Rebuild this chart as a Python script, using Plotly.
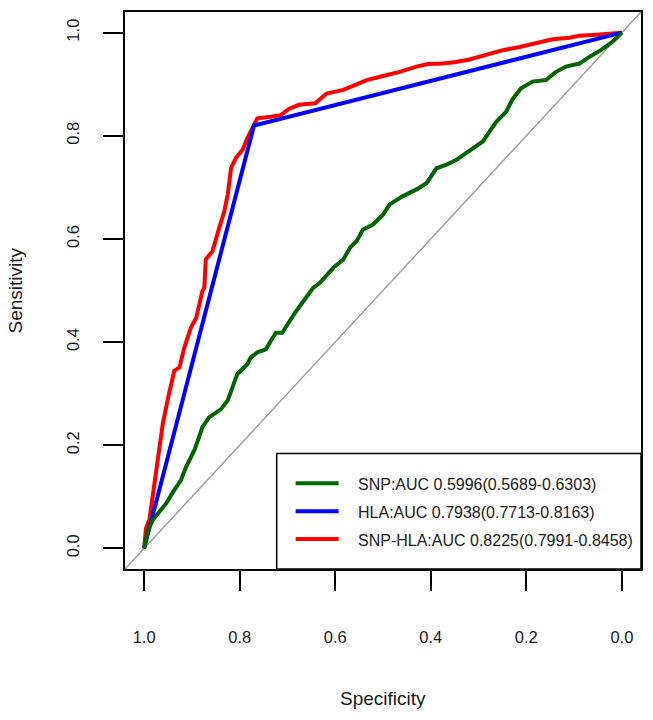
import plotly.graph_objects as go

# ---------------- data ----------------
series_names = ["SNP:AUC 0.5996(0.5689-0.6303)",
                "HLA:AUC 0.7938(0.7713-0.8163)",
                "SNP-HLA:AUC 0.8225(0.7991-0.8458)"]
series_colors = ["#006400", "#0000FF", "#FF0000"]

snp_spec = [1.0, 0.992, 0.982, 0.965, 0.954, 0.937, 0.923, 0.912, 0.895, 0.885,
            0.878, 0.864, 0.839, 0.825, 0.815, 0.805, 0.784, 0.777, 0.763, 0.745,
            0.735, 0.724, 0.711, 0.700, 0.686, 0.674, 0.646, 0.632, 0.604, 0.583,
            0.569, 0.555, 0.542, 0.521, 0.500, 0.486, 0.458, 0.430, 0.409, 0.388,
            0.367, 0.347, 0.319, 0.291, 0.277, 0.263, 0.242, 0.228, 0.211, 0.187,
            0.159, 0.138, 0.117, 0.089, 0.068, 0.044, 0.020, 0.0]
snp_sens = [0.0, 0.035, 0.055, 0.074, 0.087, 0.113, 0.132, 0.158, 0.190, 0.216,
            0.235, 0.254, 0.270, 0.287, 0.312, 0.338, 0.357, 0.370, 0.380, 0.386,
            0.402, 0.418, 0.418, 0.435, 0.454, 0.470, 0.505, 0.515, 0.544, 0.560,
            0.583, 0.596, 0.618, 0.628, 0.647, 0.667, 0.683, 0.696, 0.708, 0.737,
            0.744, 0.753, 0.772, 0.789, 0.808, 0.827, 0.847, 0.872, 0.892, 0.905,
            0.908, 0.924, 0.934, 0.940, 0.953, 0.966, 0.982, 1.0]

hla_spec = [1.0, 0.770, 0.0]
hla_sens = [0.0, 0.820, 1.0]

combo_spec = [1.0, 0.996, 0.989, 0.975, 0.961, 0.951, 0.937, 0.926, 0.916, 0.902,
              0.891, 0.878, 0.874, 0.871, 0.857, 0.843, 0.832, 0.825, 0.818, 0.808,
              0.794, 0.784, 0.773, 0.763, 0.735, 0.714, 0.697, 0.676, 0.642, 0.618,
              0.583, 0.562, 0.534, 0.500, 0.465, 0.430, 0.406, 0.375, 0.347, 0.319,
              0.284, 0.249, 0.214, 0.180, 0.145, 0.110, 0.089, 0.054, 0.0]
combo_sens = [0.0, 0.039, 0.055, 0.145, 0.241, 0.287, 0.344, 0.351, 0.389, 0.428,
              0.447, 0.499, 0.505, 0.560, 0.576, 0.621, 0.654, 0.686, 0.737, 0.757,
              0.773, 0.795, 0.815, 0.834, 0.837, 0.840, 0.852, 0.860, 0.863, 0.882,
              0.889, 0.897, 0.908, 0.916, 0.924, 0.934, 0.939, 0.940, 0.943, 0.948,
              0.956, 0.966, 0.972, 0.979, 0.987, 0.990, 0.994, 0.996, 1.0]

tick_vals = [0.0, 0.2, 0.4, 0.6, 0.8, 1.0]
tick_text = ["0.0", "0.2", "0.4", "0.6", "0.8", "1.0"]
x_title = "Specificity"
y_title = "Sensitivity"

# ---------------- figure ----------------
FONT = "Liberation Sans, Arial, sans-serif"
TXT = "#1a1a1a"
x_range = [1.04, -0.04]
y_range = [-0.04, 1.04]

fig = go.Figure()

# diagonal reference line (specificity + sensitivity = 1) across the box
fig.add_trace(go.Scatter(x=x_range, y=[1 - v for v in x_range], mode="lines",
                         line=dict(color="#A0A0A0", width=1.5),
                         showlegend=False, hoverinfo="skip"))

curves = [(combo_spec, combo_sens, 2), (hla_spec, hla_sens, 1), (snp_spec, snp_sens, 0)]
for xs, ys, idx in curves:
    fig.add_trace(go.Scatter(x=xs, y=ys, mode="lines", name=series_names[idx],
                             line=dict(color=series_colors[idx], width=4),
                             showlegend=False))

axis_common = dict(showline=True, linecolor="black", linewidth=2, mirror=True,
                   ticks="outside", ticklen=20, tickwidth=2, tickcolor="black",
                   showgrid=False, zeroline=False,
                   tickvals=tick_vals, ticktext=tick_text,
                   tickfont=dict(family=FONT, size=16.5, color=TXT))

fig.update_xaxes(range=x_range, ticklabelstandoff=32, **axis_common)
fig.update_yaxes(range=y_range, tickangle=-90, ticklabelstandoff=17, **axis_common)

W, H = 653, 720
L, R, T, B = 125, 11, 10, 151
pw = W - L - R
ph = H - T - B

def px_x(px):
    return (px - L) / pw

def px_y(py):
    return (H - B - py) / ph

shapes = [dict(type="rect", xref="paper", yref="paper",
               x0=px_x(277), x1=1.0, y0=0.0, y1=px_y(453),
               line=dict(color="black", width=1.5), fillcolor="white", layer="above")]
annotations = []
row_y = [483, 511, 539]
for i in range(3):
    shapes.append(dict(type="line", xref="paper", yref="paper",
                       x0=px_x(296), x1=px_x(339), y0=px_y(row_y[i]), y1=px_y(row_y[i]),
                       line=dict(color=series_colors[i], width=4), layer="above"))
    annotations.append(dict(xref="paper", yref="paper", x=px_x(356), y=px_y(row_y[i] + 1),
                            xanchor="left", yanchor="middle", showarrow=False,
                            text=series_names[i],
                            font=dict(family=FONT, size=16, color=TXT)))

annotations.append(dict(xref="paper", yref="paper", x=0.5, y=0, yshift=-129,
                        xanchor="center", yanchor="middle", showarrow=False,
                        text=x_title, font=dict(family=FONT, size=19, color=TXT)))
annotations.append(dict(xref="paper", yref="paper", x=0, xshift=-(L - 15), y=0.5,
                        xanchor="center", yanchor="middle", showarrow=False, textangle=-90,
                        text=y_title, font=dict(family=FONT, size=19, color=TXT)))

fig.update_layout(width=W, height=H, margin=dict(l=L, r=R, t=T, b=B),
                  paper_bgcolor="white", plot_bgcolor="white",
                  shapes=shapes, annotations=annotations, showlegend=False)

# remove the browser's default 8px body margin so the figure sits at the page origin
fig.write_html("out.html",
               config={"displayModeBar": False},
               post_script="document.body.style.margin='0';document.body.style.overflow='hidden';")
